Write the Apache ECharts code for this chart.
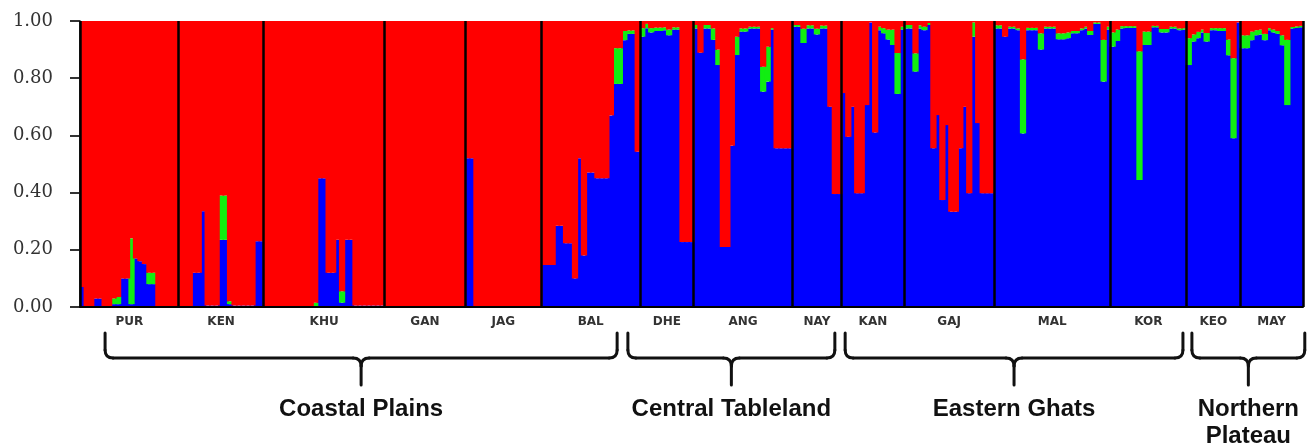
<!DOCTYPE html>
<html>
<head>
<meta charset="utf-8">
<title>STRUCTURE plot</title>
<script src="https://cdn.jsdelivr.net/npm/echarts@6.0.0/dist/echarts.min.js"></script>
<style>
    html, body { margin: 0; padding: 0; background: #fff; }
    #chart { width: 1313px; height: 448px; }
</style>
</head>
<body>
<div id="chart"></div>
<script>
// population codes, left to right
const popNames = ['PUR', 'KEN', 'KHU', 'GAN', 'JAG', 'BAL', 'DHE', 'ANG', 'NAY', 'KAN', 'GAJ', 'MAL', 'KOR', 'KEO', 'MAY'];

// membership per individual: blue cluster and green cluster (red is the rest)
const PUR_blue  = [0.07, 0, 0, 0.03, 0.03, 0, 0, 0.01, 0.01, 0.10, 0.10, 0.01, 0.17, 0.16, 0.15, 0.08, 0.08, 0, 0, 0, 0, 0];
const PUR_green = [0, 0, 0, 0, 0, 0, 0, 0.02, 0.025, 0, 0, 0.23, 0, 0, 0, 0.04, 0.04, 0, 0, 0, 0, 0];
const KEN_blue  = [0, 0, 0, 0.12, 0.12, 0.335, 0.005, 0.005, 0.005, 0.235, 0.235, 0.01, 0.005, 0.005, 0.005, 0.005, 0.005, 0.23, 0.23];
const KEN_green = [0, 0, 0, 0, 0, 0, 0, 0, 0, 0.155, 0.155, 0.01, 0, 0, 0, 0, 0, 0, 0];
const KHU_blue  = [0, 0, 0, 0, 0, 0, 0, 0, 0, 0, 0, 0, 0.45, 0.45, 0.12, 0.12, 0.235, 0.015, 0.235, 0.235, 0.005, 0.005, 0.005, 0.005, 0.005, 0.005, 0.005];
const KHU_green = [0, 0, 0, 0, 0, 0, 0, 0, 0, 0, 0, 0.015, 0, 0, 0, 0, 0, 0.04, 0, 0, 0, 0, 0, 0, 0, 0, 0];
const GAN_blue  = [0, 0, 0, 0, 0, 0, 0, 0, 0, 0, 0, 0, 0, 0, 0, 0, 0, 0];
const GAN_green = [0, 0, 0, 0, 0, 0, 0, 0, 0, 0, 0, 0, 0, 0, 0, 0, 0, 0];
const JAG_blue  = [0.52, 0.52, 0, 0, 0, 0, 0, 0, 0, 0, 0, 0, 0, 0, 0, 0, 0];
const JAG_green = [0, 0, 0, 0, 0, 0, 0, 0, 0, 0, 0, 0, 0, 0, 0, 0, 0];
const BAL_blue  = [0.147, 0.147, 0.147, 0.284, 0.284, 0.223, 0.223, 0.10, 0.52, 0.18, 0.47, 0.47, 0.45, 0.45, 0.45, 0.67, 0.78, 0.78, 0.933, 0.955, 0.955, 0.543];
const BAL_green = [0, 0, 0, 0, 0, 0, 0, 0, 0, 0, 0, 0, 0, 0, 0, 0, 0.125, 0.125, 0.032, 0.012, 0.012, 0];
const DHE_blue  = [0.945, 0.975, 0.96, 0.965, 0.965, 0.968, 0.95, 0.97, 0.97, 0.227, 0.227, 0.227];
const DHE_green = [0.03, 0.015, 0.015, 0.012, 0.012, 0.01, 0.02, 0.008, 0.008, 0, 0, 0];
const ANG_blue  = [0.974, 0.889, 0.974, 0.974, 0.934, 0.846, 0.21, 0.21, 0.564, 0.881, 0.963, 0.963, 0.974, 0.974, 0.974, 0.753, 0.788, 0.97, 0.555, 0.555, 0.555, 0.555];
const ANG_green = [0.012, 0, 0.012, 0.012, 0.04, 0.054, 0, 0, 0, 0.064, 0.011, 0.011, 0.006, 0.006, 0.006, 0.087, 0.122, 0.005, 0, 0, 0, 0];
const NAY_blue  = [0.98, 0.98, 0.923, 0.974, 0.974, 0.953, 0.974, 0.974, 0.70, 0.395, 0.395];
const NAY_green = [0.006, 0.006, 0.05, 0.011, 0.011, 0.02, 0.01, 0.01, 0, 0, 0];
const KAN_blue  = [0.748, 0.595, 0.70, 0.398, 0.398, 0.706, 0.995, 0.61, 0.968, 0.957, 0.935, 0.916, 0.745, 0.97];
const KAN_green = [0, 0, 0, 0, 0, 0, 0, 0, 0.012, 0.018, 0.035, 0.054, 0.143, 0.01];
const GAJ_blue  = [0.974, 0.974, 0.823, 0.974, 0.968, 0.986, 0.555, 0.671, 0.374, 0.636, 0.333, 0.333, 0.555, 0.70, 0.398, 0.945, 0.643, 0.398, 0.398, 0.398];
const GAJ_green = [0.012, 0.012, 0.064, 0.011, 0.012, 0.007, 0, 0, 0, 0, 0, 0, 0, 0, 0, 0.05, 0, 0, 0, 0];
const MAL_blue  = [0.974, 0.974, 0.945, 0.974, 0.974, 0.968, 0.607, 0.968, 0.968, 0.968, 0.9, 0.974, 0.974, 0.974, 0.936, 0.936, 0.94, 0.957, 0.957, 0.968, 0.974, 0.951, 0.99, 0.99, 0.788, 0.97];
const MAL_green = [0.011, 0.011, 0, 0.006, 0.006, 0.006, 0.259, 0.008, 0.008, 0.008, 0.057, 0.006, 0.006, 0.006, 0.021, 0.021, 0.02, 0.008, 0.008, 0.006, 0.006, 0.014, 0.005, 0.005, 0.146, 0.01];
const KOR_blue  = [0.91, 0.93, 0.974, 0.976, 0.976, 0.976, 0.444, 0.916, 0.916, 0.978, 0.978, 0.96, 0.96, 0.974, 0.974, 0.968, 0.97];
const KOR_green = [0.05, 0.04, 0.008, 0.006, 0.006, 0.006, 0.45, 0.047, 0.047, 0.005, 0.005, 0.012, 0.012, 0.006, 0.006, 0.006, 0.005];
const KEO_blue  = [0.846, 0.928, 0.94, 0.96, 0.928, 0.968, 0.968, 0.965, 0.965, 0.88, 0.59, 0.995];
const KEO_green = [0.094, 0.025, 0.022, 0.01, 0.03, 0.007, 0.007, 0.01, 0.01, 0.055, 0.28, 0];
const MAY_blue  = [0.905, 0.905, 0.933, 0.95, 0.953, 0.933, 0.968, 0.96, 0.955, 0.915, 0.706, 0.974, 0.976, 0.978];
const MAY_green = [0.045, 0.045, 0.03, 0.018, 0.017, 0.022, 0.007, 0.01, 0.01, 0.035, 0.228, 0.005, 0.005, 0.005];

const popBlue  = [PUR_blue, KEN_blue, KHU_blue, GAN_blue, JAG_blue, BAL_blue, DHE_blue, ANG_blue, NAY_blue, KAN_blue, GAJ_blue, MAL_blue, KOR_blue, KEO_blue, MAY_blue];
const popGreen = [PUR_green, KEN_green, KHU_green, GAN_green, JAG_green, BAL_green, DHE_green, ANG_green, NAY_green, KAN_green, GAJ_green, MAL_green, KOR_green, KEO_green, MAY_green];

// regions under the braces; span is given in individual units along the x axis
const groupNames = [['Coastal Plains'], ['Central Tableland'], ['Eastern Ghats'], ['Northern', 'Plateau']];
const braceSpans = [[5.6, 119.9], [122.3, 168.5], [170.8, 246.2], [248.2, 273.4]];

const colors = { blue: '#0000ff', green: '#11ee11', red: '#ff0000' };

// flatten populations into one row of individuals
let blue = [], green = [], red = [], bounds = [0], centers = [];
popBlue.forEach((arr, p) => {
    let start = blue.length;
    arr.forEach((b, i) => {
        let g = popGreen[p][i];
        let r = +(1 - b - g).toFixed(4);
        blue.push(b > 0 ? b : null);
        green.push(g > 0 ? g : null);
        red.push(r > 0 ? r : null);
    });
    bounds.push(blue.length);
    centers.push((start + blue.length) / 2);
});
const total = blue.length;

function barSeries(name, data, color) {
    return {
        name: name,
        type: 'bar',
        stack: 'q',
        xAxisIndex: 0,
        yAxisIndex: 0,
        // overlap neighbours a little so no hairline seams show
        barCategoryGap: '-40%',
        silent: true,
        itemStyle: { color: color },
        data: data
    };
}

let chart = echarts.init(document.getElementById('chart'));

let option = {
    animation: false,
    grid: { left: 80, right: 10, top: 21, bottom: 141 },
    xAxis: [
        {
            type: 'category',
            data: blue.map((v, i) => i),
            show: false
        },
        {
            // value axis over the same width, used for labels and separators
            type: 'value',
            min: 0,
            max: total,
            position: 'bottom',
            z: 5,
            axisLine: { show: true, onZero: false, lineStyle: { color: '#000', width: 2 } },
            axisTick: { show: false },
            splitLine: { show: false },
            axisLabel: {
                customValues: centers,
                formatter: v => popNames[centers.indexOf(v)] || '',
                margin: 9,
                color: '#333',
                fontSize: 12,
                fontWeight: 'bold',
                fontFamily: 'DejaVu Sans'
            }
        }
    ],
    yAxis: {
        type: 'value',
        min: 0,
        max: 1,
        interval: 0.2,
        axisLine: { show: true, lineStyle: { color: '#000', width: 1.5 } },
        axisTick: { show: true, length: 10, lineStyle: { color: '#333', width: 2 } },
        splitLine: { show: false },
        axisLabel: {
            formatter: v => v.toFixed(2),
            fontFamily: 'DejaVu Serif',
            fontSize: 18,
            color: '#333',
            margin: 27
        }
    },
    series: [
        barSeries('blue', blue, colors.blue),
        barSeries('green', green, colors.green),
        barSeries('red', red, colors.red),
        {
            // black lines between populations
            name: 'separators',
            type: 'line',
            xAxisIndex: 1,
            yAxisIndex: 0,
            data: [],
            silent: true,
            z: 6,
            markLine: {
                symbol: 'none',
                silent: true,
                label: { show: false },
                lineStyle: { color: '#000', width: 2.5, type: 'solid' },
                data: bounds.map(b => ({ xAxis: b }))
            }
        }
    ]
};
chart.setOption(option);

// braces and region names below the axis
function braceParts(x1, x2, top, mid, tip, r) {
    let xc = (x1 + x2) / 2;
    let st = { stroke: '#111', lineWidth: 3, fill: null, lineCap: 'round' };
    let line = (a, b, c, d) => ({ type: 'line', shape: { x1: a, y1: b, x2: c, y2: d }, style: st, silent: true });
    let curve = (a, b, cx, cy, c, d) => ({ type: 'bezierCurve', shape: { x1: a, y1: b, cpx1: cx, cpy1: cy, x2: c, y2: d }, style: st, silent: true });
    return [
        line(x1, top, x1, mid - r),
        curve(x1, mid - r, x1, mid, x1 + r, mid),
        line(x1 + r, mid, xc - r, mid),
        curve(xc - r, mid, xc, mid, xc, mid + r),
        line(xc, mid + r, xc, tip),
        curve(xc + r, mid, xc, mid, xc, mid + r),
        line(xc + r, mid, x2 - r, mid),
        curve(x2 - r, mid, x2, mid, x2, mid - r),
        line(x2, mid - r, x2, top)
    ];
}

let graphics = [];
braceSpans.forEach((span, k) => {
    let x1 = chart.convertToPixel({ xAxisIndex: 1 }, span[0]);
    let x2 = chart.convertToPixel({ xAxisIndex: 1 }, span[1]);
    graphics = graphics.concat(braceParts(x1, x2, 333, 358, 385, 8));
    groupNames[k].forEach((txt, j) => {
        graphics.push({
            type: 'text',
            x: (x1 + x2) / 2,
            y: 409 + j * 27,
            silent: true,
            style: {
                text: txt,
                font: 'bold 24px "Liberation Sans"',
                fill: '#111',
                textAlign: 'center',
                textVerticalAlign: 'middle'
            }
        });
    });
});
chart.setOption({ graphic: graphics });
</script>
</body>
</html>
